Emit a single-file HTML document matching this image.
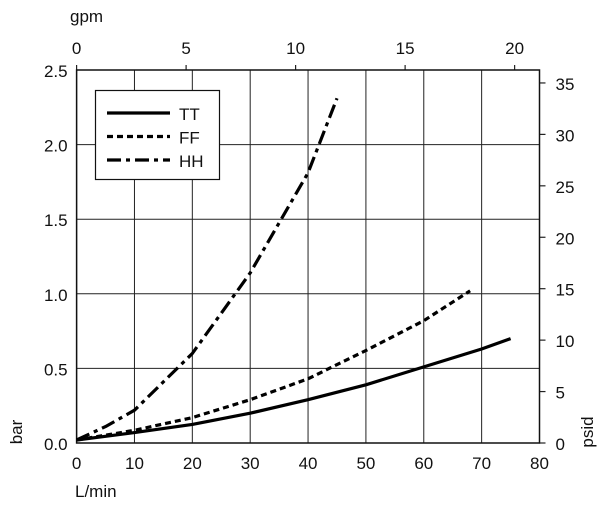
<!DOCTYPE html>
<html><head><meta charset="utf-8"><style>
html,body{margin:0;padding:0;background:#fff;}
svg text{font-family:"Liberation Sans",sans-serif;fill:#111;}
</style></head><body>
<svg id="chart" width="600" height="512" viewBox="0 0 600 512" xmlns="http://www.w3.org/2000/svg"></svg>
<script>
const xTicks=[0,10,20,30,40,50,60,70,80];
const yTicks=[0,0.5,1.0,1.5,2.0,2.5];
const gpmTicks=[0,5,10,15,20];
const psiTicks=[0,5,10,15,20,25,30,35];
const ttX=[0,10,20,30,40,50,60,70,75];
const ttY=[0.02,0.07,0.125,0.2,0.29,0.39,0.51,0.63,0.70];
const ffX=[0,10,20,30,40,50,60,68];
const ffY=[0.02,0.085,0.17,0.29,0.43,0.62,0.82,1.02];
const hhX=[0,5,10,20,30,40,45];
const hhY=[0.02,0.11,0.22,0.6,1.14,1.81,2.31];
const L=76.6,R=539.5,T=70,B=443;
const sx=v=>L+(v/80)*(R-L);
const sy=v=>B-(v/2.5)*(B-T);
const NS="http://www.w3.org/2000/svg";
const svg=document.getElementById('chart');
function mk(tag,attrs,parent){const e=document.createElementNS(NS,tag);for(const k in attrs)e.setAttribute(k,attrs[k]);(parent||svg).appendChild(e);return e;}
function txt(s,x,y,anchor,size){const t=mk('text',{x:x,y:y,'text-anchor':anchor,'font-size':size||17});t.textContent=s;return t;}
// grid
xTicks.forEach(v=>{const l=mk('line',{x1:sx(v),x2:sx(v),y1:T,y2:B,stroke:'#222','stroke-width':1});


const t=txt(String(v),sx(v),B+26,'middle');

});
yTicks.forEach(v=>{const l=mk('line',{x1:L,x2:R,y1:sy(v),y2:sy(v),stroke:'#222','stroke-width':1});


const t=txt(v.toFixed(1),L-9,sy(v)+7,'end');

});
gpmTicks.forEach(v=>{const x=sx(v*3.785);const l=mk('line',{x1:x,x2:x,y1:T-5,y2:T,stroke:'#222','stroke-width':1.2});


const t=txt(String(v),x,T-16,'middle');

});
psiTicks.forEach(v=>{const y=sy(v/14.5038);const l=mk('line',{x1:R,x2:R+6,y1:y,y2:y,stroke:'#222','stroke-width':1.2});


const t=txt(String(v),R+16,y+7,'start');

});
const fr=mk('rect',{x:L,y:T,width:R-L,height:B-T,fill:'none',stroke:'#111','stroke-width':1.5});


// series
function line(xs,ys,dash,name){const d=xs.map((x,i)=>(i?'L':'M')+sx(x).toFixed(1)+' '+sy(ys[i]).toFixed(1)).join(' ');
const p=mk('path',{d:d,fill:'none',stroke:'#000','stroke-width':3.2,'stroke-dasharray':dash||'none','stroke-linejoin':'round'});

}
line(ttX,ttY,'', 'series-tt');
line(ffX,ffY,'6 4','series-ff');
line(hhX,hhY,'14 5 4 5','series-hh');
// legend
const lg=mk('g',{});


mk('rect',{x:95.5,y:90.5,width:124,height:89,fill:'#fff',stroke:'#111','stroke-width':1.2},lg);
[['TT',''],['FF','6 4'],['HH','14 5 4 5']].forEach((e,i)=>{const y=113+i*23.5;
const g=mk('g',{},lg);


mk('line',{x1:107,x2:170,y1:y,y2:y,stroke:'#000','stroke-width':3.2,'stroke-dasharray':e[1]||'none'},g);
const t=mk('text',{x:179,y:y+7,'font-size':17},g);t.textContent=e[0];});
// axis titles
let t;
t=txt('gpm',70,22,'start');
t=txt('L/min',75,497,'start');
t=mk('text',{x:0,y:0,'font-size':17,'text-anchor':'middle',transform:'translate(22,432) rotate(-90)'});t.textContent='bar';

t=mk('text',{x:0,y:0,'font-size':17,'text-anchor':'middle',transform:'translate(593,432) rotate(-90)'});t.textContent='psid';

</script>
</body></html>
